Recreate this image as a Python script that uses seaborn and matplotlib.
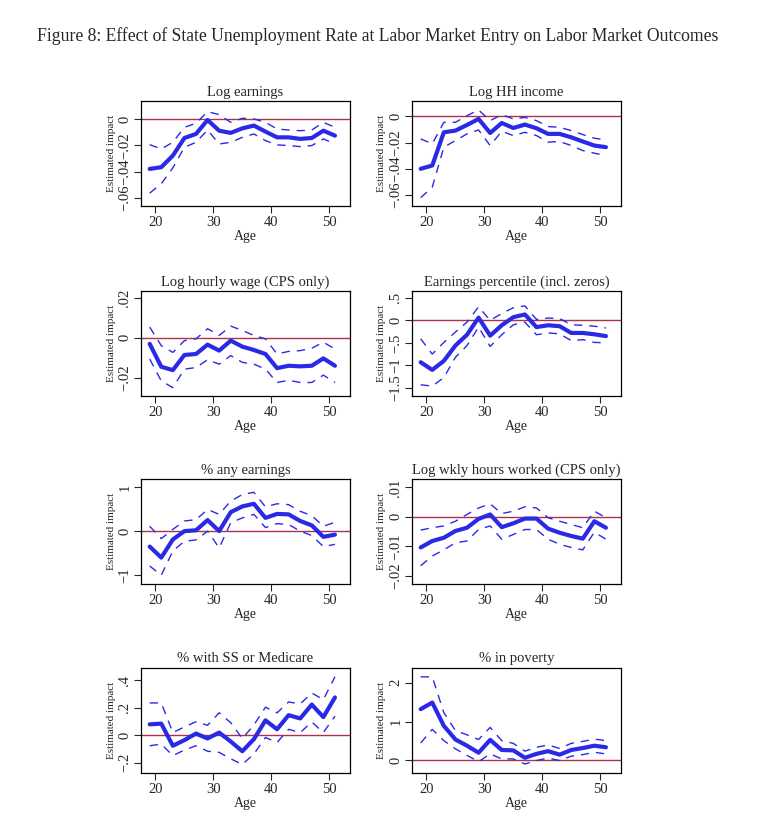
import numpy as np
import pandas as pd
import matplotlib
matplotlib.use("Agg")
import matplotlib.pyplot as plt
import seaborn as sns

ages = list(range(19, 52, 2))

titles = ["Log earnings", "Log HH income",
          "Log hourly wage (CPS only)", "Earnings percentile (incl. zeros)",
          "% any earnings", "Log wkly hours worked (CPS only)",
          "% with SS or Medicare", "% in poverty"]

# point estimates, upper and lower 95% bands
log_earn = [-0.038, -0.0367, -0.0278, -0.0143, -0.0112, -0.0005, -0.0087, -0.0104, -0.0069,
            -0.0048, -0.0094, -0.0138, -0.0138, -0.015, -0.0143, -0.0087, -0.0125]
log_earn_hi = [-0.0194, -0.0227, -0.0176, -0.0061, -0.003, 0.0059, 0.0036, -0.0023, 0.0008,
               0.0003, -0.0023, -0.0074, -0.0082, -0.0087, -0.0082, -0.0023, -0.0061]
log_earn_lo = [-0.0566, -0.0494, -0.0372, -0.0214, -0.0176, -0.0082, -0.0189, -0.0176, -0.0138,
               -0.0112, -0.0163, -0.0196, -0.0201, -0.0209, -0.0201, -0.015, -0.0189]

log_hh = [-0.040, -0.0375, -0.0122, -0.0109, -0.0066, -0.002, -0.0127, -0.0051, -0.0089,
          -0.0063, -0.0091, -0.0134, -0.0134, -0.016, -0.0192, -0.0223, -0.0235]
log_hh_hi = [-0.0172, -0.021, -0.0046, -0.0046, 0.0005, 0.0048, -0.0033, 0.0013, -0.002,
             -0.0008, -0.0033, -0.0078, -0.0084, -0.0109, -0.0139, -0.0167, -0.018]
log_hh_lo = [-0.062, -0.054, -0.0235, -0.0185, -0.0134, -0.0104, -0.0223, -0.0114, -0.0147,
             -0.0122, -0.0147, -0.0197, -0.0192, -0.0223, -0.0261, -0.0281, -0.0299]

wage = [-0.003, -0.0145, -0.0162, -0.0086, -0.0081, -0.0034, -0.0064, -0.0014, -0.0044,
        -0.0061, -0.0081, -0.0152, -0.014, -0.0143, -0.014, -0.0103, -0.014]
wage_hi = [0.0054, -0.0039, -0.0073, -0.0014, -0.0005, 0.0046, 0.0012, 0.0059, 0.0037,
           0.0012, -0.0005, -0.0081, -0.0068, -0.0064, -0.0052, -0.0022, -0.0056]
wage_lo = [-0.0106, -0.0216, -0.025, -0.0157, -0.0149, -0.011, -0.0132, -0.0089, -0.0123,
           -0.0132, -0.0157, -0.0224, -0.0213, -0.0224, -0.0224, -0.0187, -0.0224]

pctile = [-0.93, -1.10, -0.90, -0.56, -0.32, 0.06, -0.34, -0.11, 0.07,
          0.13, -0.15, -0.11, -0.13, -0.28, -0.28, -0.31, -0.35]
pctile_hi = [-0.41, -0.75, -0.49, -0.26, -0.04, 0.30, 0.0, 0.15, 0.28,
             0.32, 0.02, 0.05, 0.04, -0.10, -0.11, -0.13, -0.17]
pctile_lo = [-1.43, -1.46, -1.27, -0.82, -0.56, -0.15, -0.58, -0.32, -0.10,
             -0.04, -0.32, -0.28, -0.30, -0.45, -0.43, -0.49, -0.50]

any_earn = [-0.35, -0.60, -0.19, 0.0, 0.02, 0.25, 0.0, 0.43, 0.56,
            0.62, 0.30, 0.39, 0.38, 0.23, 0.13, -0.13, -0.08]
any_earn_hi = [0.11, -0.17, 0.04, 0.23, 0.26, 0.49, 0.38, 0.68, 0.83,
               0.88, 0.55, 0.62, 0.60, 0.45, 0.35, 0.11, 0.20]
any_earn_lo = [-0.79, -1.0, -0.45, -0.23, -0.20, 0.0, -0.38, 0.19, 0.30,
               0.38, 0.08, 0.17, 0.15, 0.0, -0.10, -0.35, -0.30]

hours = [-0.0104, -0.0082, -0.0071, -0.0048, -0.0037, -0.0007, 0.0008, -0.0035, -0.0022,
         -0.0006, -0.0006, -0.004, -0.0054, -0.0065, -0.0074, -0.0015, -0.0037]
hours_hi = [-0.0045, -0.0037, -0.0031, -0.0015, 0.0008, 0.003, 0.0044, 0.0011, 0.0019,
            0.0034, 0.003, -0.0003, -0.0015, -0.0026, -0.0037, 0.0019, -0.0003]
hours_lo = [-0.0166, -0.0133, -0.0112, -0.0088, -0.0082, -0.0043, -0.0031, -0.0076, -0.006,
            -0.0043, -0.0043, -0.0076, -0.0093, -0.0104, -0.0112, -0.0052, -0.0076]

ss = [0.079, 0.084, -0.077, -0.036, 0.012, -0.024, 0.019, -0.046, -0.117,
      -0.029, 0.108, 0.043, 0.146, 0.122, 0.223, 0.132, 0.275]
ss_hi = [0.235, 0.235, 0.019, 0.06, 0.098, 0.072, 0.163, 0.091, -0.024,
         0.074, 0.204, 0.163, 0.242, 0.228, 0.307, 0.259, 0.426]
ss_lo = [-0.077, -0.065, -0.149, -0.108, -0.077, -0.117, -0.125, -0.172, -0.213,
         -0.137, -0.017, -0.053, 0.043, 0.019, 0.096, 0.019, 0.139]

poverty = [1.32, 1.49, 0.89, 0.54, 0.38, 0.20, 0.53, 0.27, 0.26,
           0.07, 0.17, 0.24, 0.15, 0.27, 0.32, 0.38, 0.34]
poverty_hi = [2.15, 2.15, 1.23, 0.77, 0.66, 0.54, 0.85, 0.51, 0.44,
              0.24, 0.34, 0.40, 0.31, 0.44, 0.49, 0.55, 0.51]
poverty_lo = [0.45, 0.80, 0.51, 0.30, 0.13, -0.03, 0.17, 0.04, 0.04,
              -0.09, 0.0, 0.06, 0.0, 0.11, 0.15, 0.21, 0.17]

series = [(log_earn, log_earn_hi, log_earn_lo), (log_hh, log_hh_hi, log_hh_lo),
          (wage, wage_hi, wage_lo), (pctile, pctile_hi, pctile_lo),
          (any_earn, any_earn_hi, any_earn_lo), (hours, hours_hi, hours_lo),
          (ss, ss_hi, ss_lo), (poverty, poverty_hi, poverty_lo)]

yticks = [[-0.06, -0.04, -0.02, 0], [-0.06, -0.04, -0.02, 0],
          [-0.02, 0, 0.02], [-1.5, -1, -0.5, 0, 0.5],
          [-1, 0, 1], [-0.02, -0.01, 0, 0.01],
          [-0.2, 0, 0.2, 0.4], [0, 1, 2]]
ytick_labels = [["\u2212.06", "\u2212.04", "\u2212.02", "0"], ["\u2212.06", "\u2212.04", "\u2212.02", "0"],
                ["\u2212.02", "0", ".02"], ["\u22121.5", "\u22121", "\u2212.5", "0", ".5"],
                ["\u22121", "0", "1"], ["\u2212.02", "\u2212.01", "0", ".01"],
                ["\u2212.2", "0", ".2", ".4"], ["0", "1", "2"]]
ylims = [(-0.0667, 0.0138), (-0.0686, 0.0114), (-0.0292, 0.0235), (-1.68, 0.65),
         (-1.2, 1.18), (-0.0228, 0.0128), (-0.275, 0.49), (-0.32, 2.38)]

sns.set_style("ticks")
plt.rcParams['font.family'] = ['Liberation Serif', 'DejaVu Serif']

blue = "#2a2ae6"
red = "#b0304c"

fig = plt.figure(figsize=(7.75, 8.32), dpi=100)
fig.text(0.487, 1 - 36 / 832, "Figure 8: Effect of State Unemployment Rate at Labor Market Entry on Labor Market Outcomes",
         ha="center", va="center", fontsize=12.7)

lefts = [141 / 775, 412 / 775]
bottoms = [0.752, 0.524, 0.298, 0.071]
w, h = 209 / 775, 105 / 832

for i, (est, hi, lo) in enumerate(series):
    r, c = divmod(i, 2)
    ax = fig.add_axes([lefts[c], bottoms[r], w, h])
    df = pd.DataFrame({"age": ages, "est": est, "hi": hi, "lo": lo})
    ax.axhline(0, color=red, lw=1.0, zorder=1)
    sns.lineplot(data=df, x="age", y="hi", ax=ax, color=blue, lw=1.0, dashes=(6, 5))
    sns.lineplot(data=df, x="age", y="lo", ax=ax, color=blue, lw=1.0, dashes=(6, 5))
    sns.lineplot(data=df, x="age", y="est", ax=ax, color=blue, lw=3.0)
    ax.set_xlim(17.5, 53.6)
    ax.set_ylim(*ylims[i])
    ax.set_xticks([20, 30, 40, 50])
    ax.set_xticklabels(["20", "30", "40", "50"], fontsize=10.5)
    ax.set_yticks(yticks[i])
    ax.set_yticklabels(ytick_labels[i], rotation=90, va="center", fontsize=10.5)
    ax.tick_params(length=5, width=0.8, pad=2)
    ax.set_title(titles[i], fontsize=10.5, pad=4)
    ax.set_xlabel("Age", fontsize=10, labelpad=1)
    ax.set_ylabel("Estimated impact", fontsize=8, labelpad=2)
    for s in ax.spines.values():
        s.set_linewidth(0.9)
        s.set_color("black")

fig.savefig("out.png", dpi=100)
